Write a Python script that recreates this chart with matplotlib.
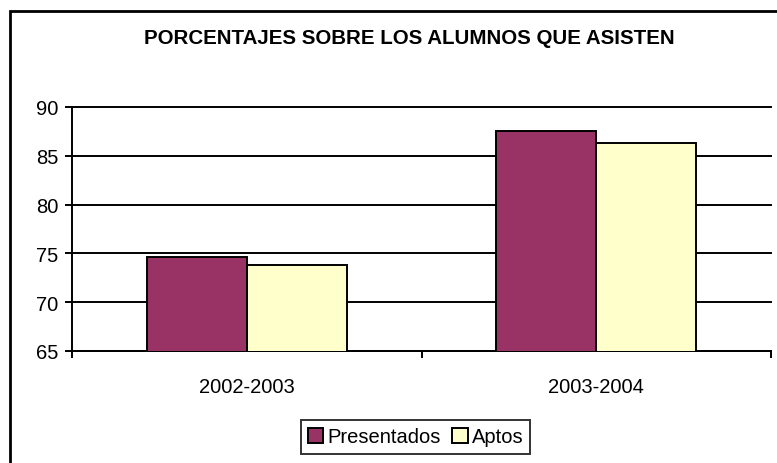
import matplotlib
matplotlib.use("Agg")
import matplotlib.pyplot as plt
import matplotlib.patches as patches
import numpy as np

# Data
categories = ["2002-2003", "2003-2004"]
presentados = [74.6, 87.5]
aptos = [73.8, 86.3]
series_names = ["Presentados", "Aptos"]
y_ticks = [65, 70, 75, 80, 85, 90]

# Excel classic palette colours
PRES_COLOR = "#993366"
APTOS_COLOR = "#FFFFCC"

plt.rcParams['font.family'] = ['Liberation Sans', 'DejaVu Sans']

W, H = 777, 464
fig = plt.figure(figsize=(W / 100, H / 100), dpi=100)
ax = fig.add_axes([72 / W, 1 - 352 / H, (771 - 72) / W, (352 - 108) / H])

x = np.arange(len(categories))
width = 1 / 3.5  # Excel gap width of 150%
ax.bar(x - width / 2, presentados, width, color=PRES_COLOR, edgecolor="black",
       linewidth=1.4, label=series_names[0], zorder=3)
ax.bar(x + width / 2, aptos, width, color=APTOS_COLOR, edgecolor="black",
       linewidth=1.4, label=series_names[1], zorder=3)

ax.set_xlim(-0.5, len(categories) - 0.5)
ax.set_ylim(y_ticks[0], y_ticks[-1])
ax.set_yticks(y_ticks)
ax.yaxis.grid(True, color="black", linewidth=1.4, zorder=0)
ax.set_axisbelow(True)
for line in ax.get_ygridlines():
    line.set_clip_on(False)  # keep the top (90) gridline at full width

# category labels in the middle, ticks on the boundaries
ax.set_xticks(x)
ax.set_xticklabels(categories)
ax.tick_params(axis="x", which="major", length=0, pad=19, labelsize=14.5)
ax.set_xticks(np.arange(len(categories) + 1) - 0.5, minor=True)
ax.tick_params(axis="x", which="minor", length=5, width=1.4, direction="out")
ax.tick_params(axis="y", length=5, width=1.4, direction="out", pad=5, labelsize=14.5)

for side in ["top", "right"]:
    ax.spines[side].set_visible(False)
for side in ["left", "bottom"]:
    ax.spines[side].set_linewidth(1.4)
    ax.spines[side].set_color("black")

fig.text(0.5 * (142 + 677) / W, 1 - 38 / H, "PORCENTAJES SOBRE LOS ALUMNOS QUE ASISTEN",
         ha="center", va="center", fontsize=14.8, fontweight="bold")

leg = fig.legend(loc="center", bbox_to_anchor=(415.5 / W, 1 - 438 / H), ncol=2,
                 fontsize=14.5, frameon=True, fancybox=False, shadow=False,
                 handlelength=0.75, handleheight=0.75, handletextpad=0.2,
                 columnspacing=0.6, borderpad=0.35, borderaxespad=0)
leg.get_frame().set_edgecolor("black")
leg.get_frame().set_linewidth(1.4)

# outer chart border (right and bottom sides fall outside the image)
border = patches.Rectangle((10 / W, -0.1), 1.2, 1 - 12 / H + 0.1,
                           transform=fig.transFigure, fill=False,
                           edgecolor="black", linewidth=2.0, clip_on=False)
fig.patches.append(border)

fig.savefig("out.png", dpi=100)
plt.close(fig)
